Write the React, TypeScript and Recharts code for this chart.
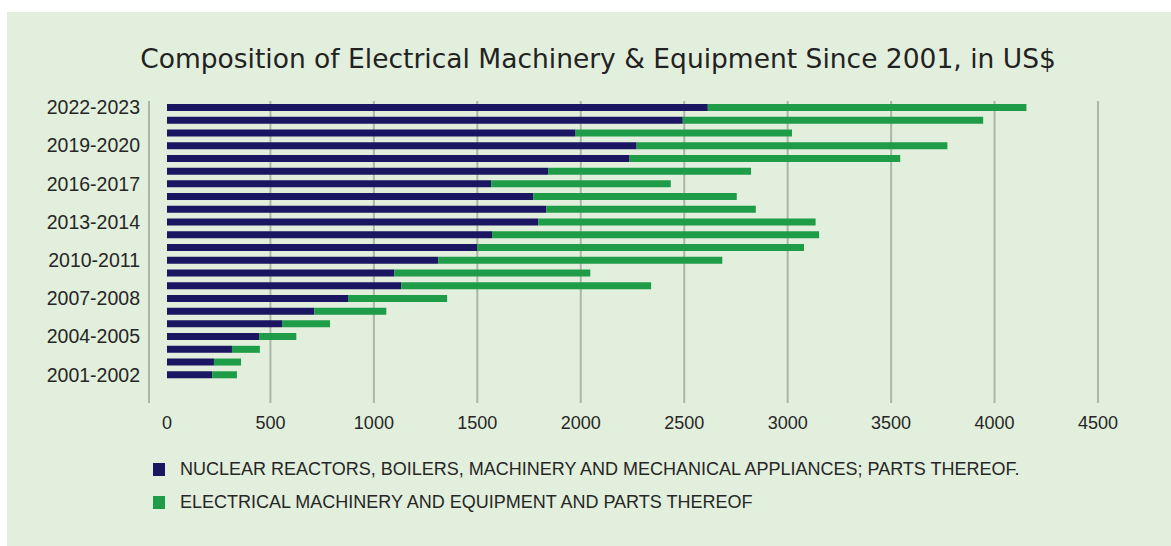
import { Bar, BarChart, CartesianGrid, Legend, XAxis, YAxis } from 'recharts'

const years = [
  '2001-2002', '2002-2003', '2003-2004', '2004-2005', '2005-2006', '2006-2007',
  '2007-2008', '2008-2009', '2009-2010', '2010-2011', '2011-2012', '2012-2013',
  '2013-2014', '2014-2015', '2015-2016', '2016-2017', '2017-2018', '2018-2019',
  '2019-2020', '2020-2021', '2021-2022', '2022-2023',
]

// nuclear reactors, boilers, machinery ...
const machinery = [
  218, 227, 314, 445, 556, 712, 875, 1132, 1099, 1311, 1499,
  1571, 1794, 1834, 1770, 1567, 1842, 2236, 2270, 1975, 2493, 2614,
]

// electrical machinery and equipment
const electrical = [
  120, 131, 135, 180, 232, 348, 479, 1208, 947, 1373, 1580,
  1581, 1341, 1012, 984, 868, 981, 1308, 1502, 1046, 1452, 1540,
]

const xTicks = [0, 500, 1000, 1500, 2000, 2500, 3000, 3500, 4000, 4500]
const gridTicks = [500, 1000, 1500, 2000, 2500, 3000, 3500, 4000, 4500]

const seriesNames = [
  'NUCLEAR REACTORS, BOILERS, MACHINERY AND MECHANICAL APPLIANCES; PARTS THEREOF.',
  'ELECTRICAL MACHINERY AND EQUIPMENT AND PARTS THEREOF',
]
const seriesColors = ['#1a1662', '#1e9c48']

const data = years.map((year, i) => ({
  year,
  machinery: machinery[i],
  electrical: electrical[i],
}))

const textColor = '#262626'
const gridColor = '#adb5a9'

function LegendBox() {
  return (
    <div>
      {seriesNames.map((name, i) => (
        <div key={name} style={{ display: 'flex', alignItems: 'center', height: 33 }}>
          <span style={{ display: 'inline-block', width: 12, height: 13, background: seriesColors[i], marginRight: 15 }} />
          <span style={{ fontSize: 18, color: textColor }}>{name}</span>
        </div>
      ))}
    </div>
  )
}

export default function App() {
  return (
    <div
      style={{
        position: 'absolute',
        left: 7,
        top: 12,
        width: 1164,
        height: 534,
        background: '#e2efdc',
        fontFamily: 'Liberation Sans',
      }}
    >
      <div
        style={{
          position: 'absolute',
          left: 0,
          top: 32,
          width: 1182,
          textAlign: 'center',
          fontFamily: 'DejaVu Sans',
          fontSize: 26.5,
          lineHeight: '30px',
          color: '#222',
        }}
      >
        Composition of Electrical Machinery &amp; Equipment Since 2001, in US$
      </div>
      <BarChart
        width={1164}
        height={534}
        data={data}
        layout="vertical"
        margin={{ top: 89, right: 73, left: 0, bottom: 113 }}
      >
        <CartesianGrid xAxisId="grid" horizontal={false} stroke={gridColor} strokeWidth={2} />
        <XAxis
          xAxisId="grid"
          type="number"
          domain={[-87, 4500]}
          ticks={gridTicks}
          allowDataOverflow
          hide
        />
        <XAxis
          type="number"
          domain={[-87, 4500]}
          ticks={xTicks}
          allowDataOverflow
          height={30}
          axisLine={false}
          tickLine={false}
          tickSize={0}
          tickMargin={13}
          tick={{ fill: textColor, fontSize: 18 }}
        />
        <YAxis
          type="category"
          dataKey="year"
          reversed
          interval={2}
          width={142}
          padding={{ top: 0, bottom: 22 }}
          tickLine={false}
          tickSize={0}
          tickMargin={9}
          axisLine={{ stroke: gridColor, strokeWidth: 2 }}
          tick={{ fill: textColor, fontSize: 19.5 }}
        />
        <Legend
          layout="horizontal"
          verticalAlign="middle"
          align="center"
          content={<LegendBox />}
          wrapperStyle={{ left: 146, top: 441, width: 1000 }}
        />
        <Bar dataKey="machinery" name={seriesNames[0]} stackId="a" fill={seriesColors[0]} barSize={7} isAnimationActive={false} />
        <Bar dataKey="electrical" name={seriesNames[1]} stackId="a" fill={seriesColors[1]} barSize={7} isAnimationActive={false} />
      </BarChart>
    </div>
  )
}
